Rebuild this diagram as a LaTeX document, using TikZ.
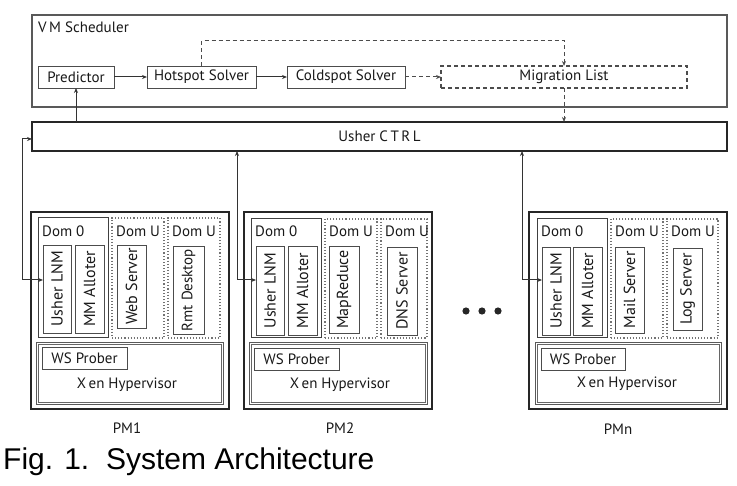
\documentclass[tikz,border=0pt]{standalone}
\usepackage{fontspec}
\setmainfont{PT Sans}
\newfontfamily\capfont{Liberation Sans}
\usetikzlibrary{arrows.meta,calc}
\newcommand\mkbox[7]{\node[#2, inner sep=0pt, outer sep=0pt, minimum width={(#5-#3)*1pt}, minimum height={(#6-#4)*1pt}] (#1) at ({(#3+#5)/2},{(#4+#6)/2}) {#7};}
\newcommand\vtext[2][16]{\rotatebox{90}{\fontsize{#1}{18}\selectfont #2}}
\newcommand\xeninner[1]{\draw[draw=black!60, line width=0.7pt] ([shift={(2pt,-2pt)}]#1.north west) rectangle ([shift={(-2pt,2pt)}]#1.south east);}
\begin{document}
\begin{tikzpicture}[x=1pt,y=-1pt,
  every node/.style={font=\fontsize{15}{17}\selectfont, text=black!90},
  sched/.style={draw=black!65, line width=1.1pt},
  ctrl/.style={draw=black!85, line width=1.8pt},
  pm/.style={draw=black!85, line width=1.8pt},
  comp/.style={draw=black!70, line width=0.9pt, fill=white},
  dzero/.style={draw=black!75, line width=1pt},
  domu/.style={draw=black!55, dotted, line width=1.1pt},
  dbox/.style={draw=black!70, dash pattern=on 4pt off 3pt, line width=1.1pt},
  xen/.style={draw=black!65, line width=0.8pt},
  lbl/.style={anchor=west, inner sep=0pt},
  arr/.style={draw=black!80, line width=1pt, -{Stealth[length=5pt,width=4pt]}},
  darr/.style={draw=black!70, line width=1pt, dash pattern=on 4pt off 3pt, -{Stealth[length=5pt,width=4pt]}},
  barr/.style={draw=black!80, line width=1pt, {Stealth[length=5pt,width=4pt]}-{Stealth[length=5pt,width=4pt]}}
]
\useasboundingbox (0,0) rectangle (737,486);
\fill[white] (0,0) rectangle (737,486);

% VM Scheduler
\mkbox{vms}{sched}{32}{15}{727}{107}{}
\node[lbl] (vmslbl) at (38,27) {V\,M Scheduler};
\mkbox{pred}{comp}{38}{66}{114}{88}{Predictor}
\mkbox{hot}{comp}{147}{66}{256}{88}{Hotspot Solver}
\mkbox{cold}{comp}{287}{66}{405}{88}{Coldspot Solver}
\mkbox{mig}{dbox}{441}{66}{687}{88}{Migration List}

% Usher CTRL
\mkbox{ctrl}{ctrl}{32}{122}{727}{151}{Usher C\,T\,R\,L}

\draw[arr] (pred) -- (hot);
\draw[arr] (hot) -- (cold);
\draw[darr] (cold) -- (mig);
\draw[darr] (hot.north) -- ++(0,-25) -| (mig.north);
\draw[darr] (mig.south) -- (mig.south |- ctrl.north);
\draw[arr] (pred.south |- ctrl.north) -- (pred.south);

% PM1
\mkbox{pma}{pm}{31}{212}{229}{409}{}
\mkbox{xena}{xen}{36}{342}{223}{404}{}
\xeninner{xena}
\mkbox{dza}{dzero}{38}{218}{108}{338}{}
\node[lbl] (dzla) at (42,231) {Dom 0};
\mkbox{lnma}{comp}{43}{245}{71}{333}{\vtext{Usher LNM}}
\mkbox{mma}{comp}{75}{245}{104}{333}{\vtext{MM Alloter}}
\mkbox{dua}{domu}{112}{218}{164}{338}{}
\node[lbl] (dula) at (116,231) {Dom U};
\mkbox{weba}{comp}{117}{245}{146}{328}{\vtext{Web Server}}
\mkbox{dub}{domu}{168}{218}{220}{338}{}
\node[lbl] (dulb) at (172,231) {Dom U};
\mkbox{rmta}{comp}{173}{246}{204}{334}{\vtext[15]{Rmt Desktop}}
\mkbox{wsa}{comp}{42}{347}{127}{369}{WS Prober}
\node (xtxa) at (127,385) {X\,en Hypervisor};
\node (pmla) at (127,428) {PM1};

% PM2
\mkbox{pmb}{pm}{244}{212}{432}{409}{}
\mkbox{xenb}{xen}{249}{342}{427}{404}{}
\xeninner{xenb}
\mkbox{dzb}{dzero}{251}{219}{321}{338}{}
\node[lbl] (dzlb) at (255,231) {Dom 0};
\mkbox{lnmb}{comp}{256}{246}{284}{335}{\vtext{Usher LNM}}
\mkbox{mmb}{comp}{288}{246}{317}{335}{\vtext{MM Alloter}}
\mkbox{duc}{domu}{325}{219}{377}{338}{}
\node[lbl] (dulc) at (329,231) {Dom U};
\mkbox{mapb}{comp}{329}{246}{359}{333}{\vtext{MapReduce}}
\mkbox{dud}{domu}{381}{219}{427}{338}{}
\node[lbl] (duld) at (385,231) {Dom U};
\mkbox{dnsb}{comp}{387}{247}{417}{335}{\vtext{DNS Server}}
\mkbox{wsb}{comp}{254}{348}{339}{370}{WS Prober}
\node (xtxb) at (340,385) {X\,en Hypervisor};
\node (pmlb) at (340,428) {PM2};

% PMn
\mkbox{pmc}{pm}{529}{212}{727}{409}{}
\mkbox{xenc}{xen}{535}{342}{721}{404}{}
\xeninner{xenc}
\mkbox{dzc}{dzero}{537}{219}{607}{338}{}
\node[lbl] (dzlc) at (541,231) {Dom 0};
\mkbox{lnmc}{comp}{542}{247}{570}{335}{\vtext{Usher LNM}}
\mkbox{mmc}{comp}{573}{247}{602}{335}{\vtext{MM Alloter}}
\mkbox{due}{domu}{611}{219}{663}{338}{}
\node[lbl] (dule) at (615,231) {Dom U};
\mkbox{mailc}{comp}{615}{247}{644}{333}{\vtext{Mail Server}}
\mkbox{duf}{domu}{667}{219}{718}{338}{}
\node[lbl] (dulf) at (671,231) {Dom U};
\mkbox{logc}{comp}{673}{248}{702}{330}{\vtext{Log Server}}
\mkbox{wsc}{comp}{541}{348}{625}{370}{WS Prober}
\node (xtxc) at (627,384) {X\,en Hypervisor};
\node (pmlc) at (618,429) {PMn};

% connectors PM <-> CTRL
\coordinate (ja) at (22,139);
\coordinate (jb) at (22,280);
\draw[barr] (ctrl.west |- ja) -- (ja) -- (jb) -- (lnma.west |- jb);
\coordinate (jc) at (237,280);
\draw[barr] (ctrl.south -| jc) -- (jc) -- (lnmb.west |- jc);
\coordinate (jd) at (522,280);
\draw[barr] (ctrl.south -| jd) -- (jd) -- (lnmc.west |- jd);

% dots
\fill[black!85] (466,311) circle (3.6) (482,311) circle (3.6) (498,311) circle (3.6);

% caption
\node[anchor=base west, inner sep=0pt, font=\capfont\fontsize{30}{32}\selectfont, text=black] (cap) at (3,470) {Fig. 1.\ \ System Architecture};
\end{tikzpicture}
\end{document}
